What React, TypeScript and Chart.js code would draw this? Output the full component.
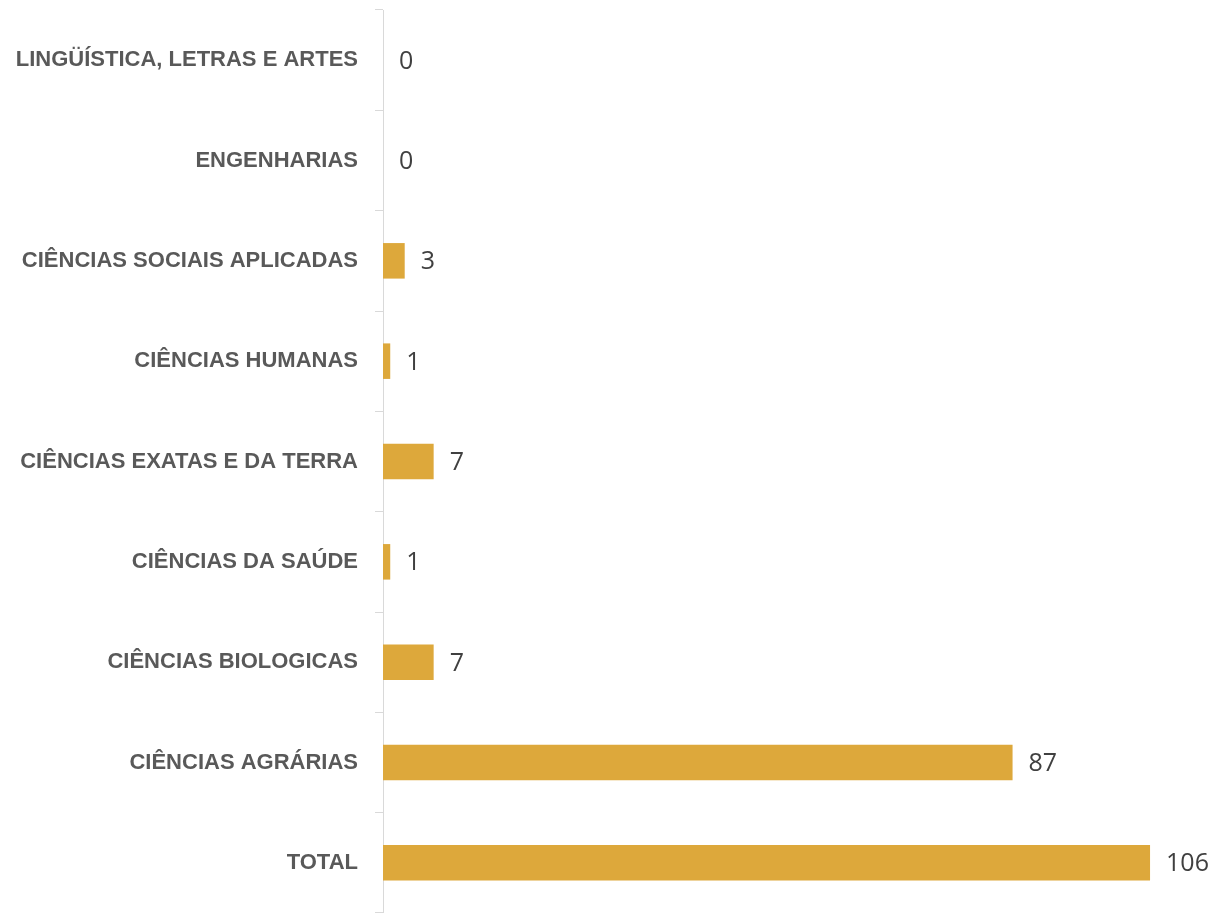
import React, { useEffect, useRef } from "react";
import { Chart, registerables } from "chart.js";

Chart.register(...registerables);

const categories = [
  "LINGÜÍSTICA, LETRAS E ARTES",
  "ENGENHARIAS",
  "CIÊNCIAS SOCIAIS APLICADAS",
  "CIÊNCIAS HUMANAS",
  "CIÊNCIAS EXATAS E DA TERRA",
  "CIÊNCIAS DA SAÚDE",
  "CIÊNCIAS BIOLOGICAS",
  "CIÊNCIAS AGRÁRIAS",
  "TOTAL",
];
const values = [0, 0, 3, 1, 7, 1, 7, 87, 106];

const BAR_COLOR = "#DDA83B";
const AXIS_COLOR = "#D9D9D9";

const valueLabels = {
  id: "valueLabels",
  afterDatasetsDraw(chart: any) {
    const ctx = chart.ctx;
    const meta = chart.getDatasetMeta(0);
    ctx.save();
    ctx.font = "25px 'Open Sans'";
    ctx.fillStyle = "#404040";
    ctx.textAlign = "left";
    ctx.textBaseline = "middle";
    meta.data.forEach((el: any, i: number) => {
      ctx.fillText(String(values[i]), el.x + 16, el.y + 1.5);
    });
    ctx.restore();
  },
};

export default function App() {
  const ref = useRef<HTMLCanvasElement | null>(null);
  useEffect(() => {
    if (!ref.current) return;
    const chart = new Chart(ref.current, {
      type: "bar",
      data: {
        labels: categories,
        datasets: [
          {
            data: values,
            backgroundColor: BAR_COLOR,
            borderWidth: 0,
            barPercentage: 0.354,
            categoryPercentage: 1,
          },
        ],
      },
      options: {
        indexAxis: "y",
        animation: false,
        responsive: false,
        maintainAspectRatio: false,
        layout: { padding: { top: 10, right: 44, bottom: 0, left: 0 } },
        plugins: {
          legend: { display: false },
          tooltip: { enabled: false },
        },
        scales: {
          x: { display: false, min: 0, max: 110 },
          y: {
            afterFit: (scale: any) => {
              scale.width = 383;
              scale.paddingTop = 0;
              scale.paddingBottom = 0;
            },
            border: { display: true, color: AXIS_COLOR, width: 1 },
            grid: {
              offset: true,
              drawOnChartArea: false,
              drawTicks: true,
              tickLength: 8,
              color: AXIS_COLOR,
            },
            ticks: {
              padding: 17,
              color: "#595959",
              font: { family: "'Liberation Sans', Arial, sans-serif", size: 22, weight: "bold" },
            },
          },
        },
      },
      plugins: [valueLabels],
    });
    return () => chart.destroy();
  }, []);
  return (
    <div style={{ position: "fixed", left: 0, top: 0, width: 1223, height: 913, background: "#fff" }}>
      <canvas ref={ref} width={1223} height={913} style={{ display: "block" }} />
    </div>
  );
}
